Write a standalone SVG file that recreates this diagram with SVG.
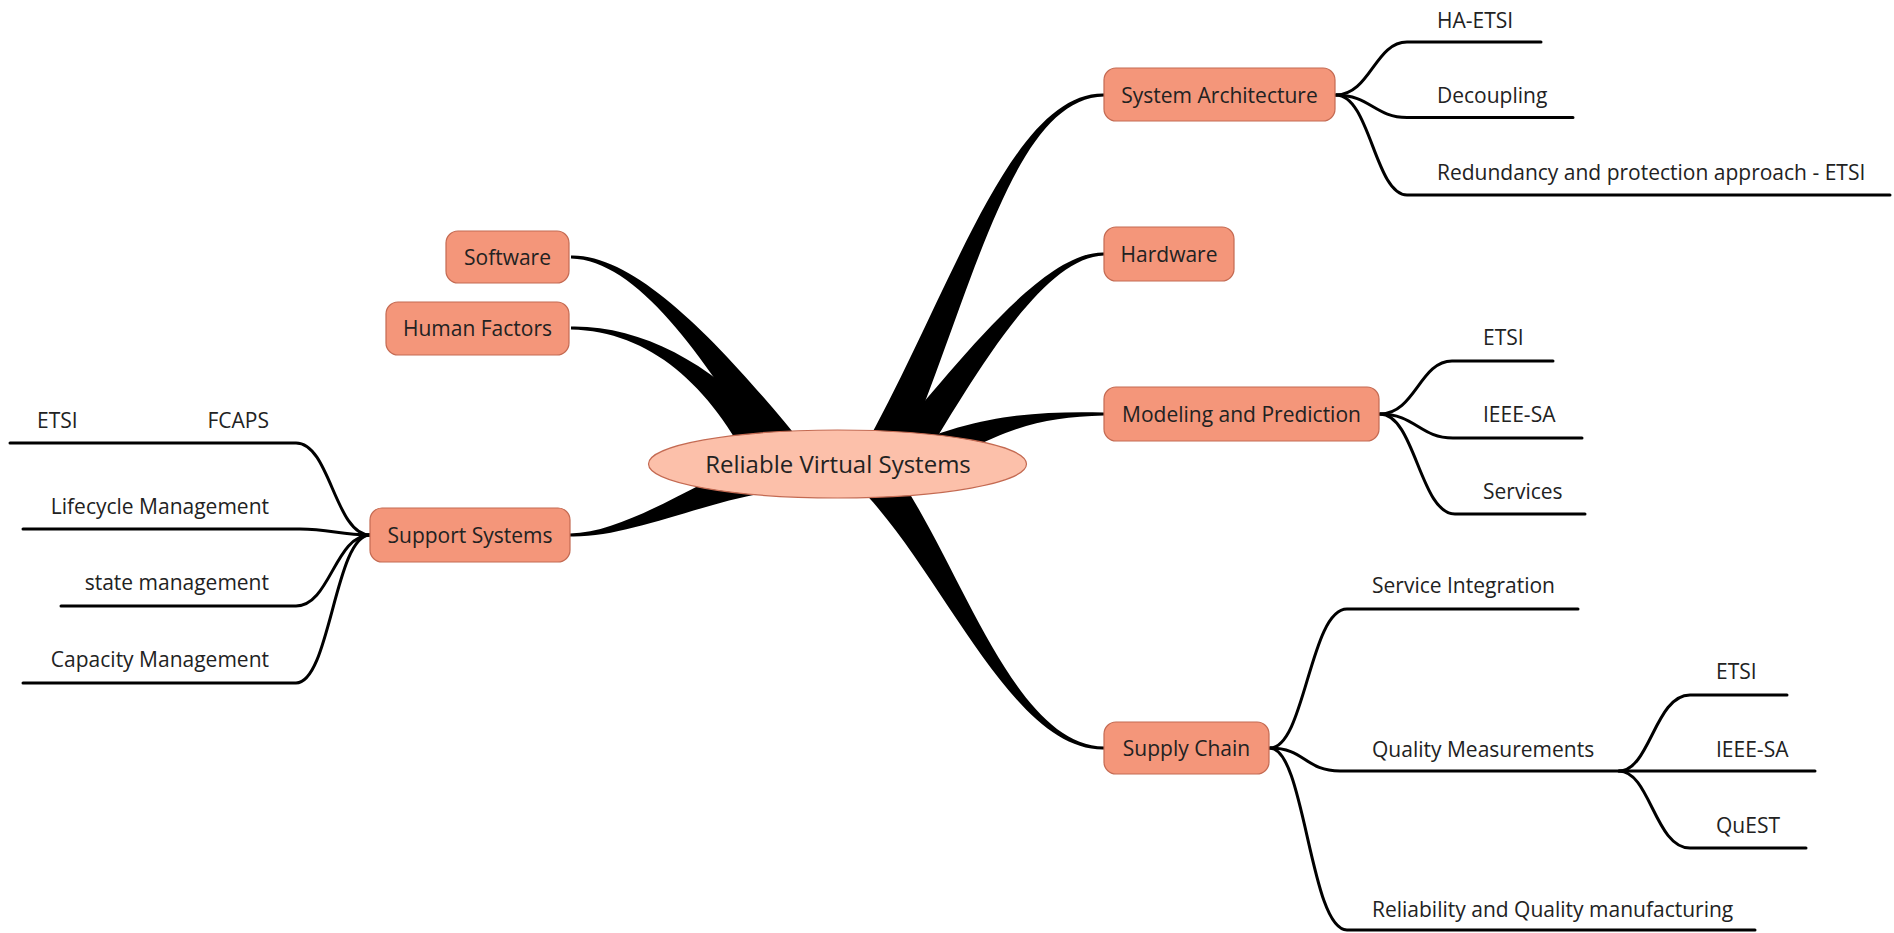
<svg xmlns="http://www.w3.org/2000/svg" width="1894" height="933" viewBox="0 0 1894 933">
<style>
.box{fill:#F4967A;stroke:#C46A52;stroke-width:1.2}
.t{font-family:"Open Sans","Noto Sans","Liberation Sans",sans-serif;font-size:21px;fill:#222}
.c{text-anchor:middle}
.r{text-anchor:end}
.br{fill:#000}
.ln{fill:none;stroke:#000;stroke-width:3;stroke-linecap:round}
</style>
<rect width="1894" height="933" fill="#fff"/>
<g id="connectors">
<path class="br" d="M806.4,448.5 C729.0,353.7 640,254 571,255.5 L571,258.5 C640,260 711.0,366.3 773.6,471.5 Z"/>
<path class="br" d="M787.0,449.4 C729.3,374.2 650,325 571,326.5 L571,329.5 C650,331 710.7,385.8 753.0,470.6 Z"/>
<path class="br" d="M775.2,450.6 C697.3,479.3 630,532 570,533.5 L570,536.5 C630,538 702.7,500.7 784.9,489.4 Z"/>
<path class="br" d="M897.9,468.9 C969.8,304.9 1010,98 1104,96.5 L1104,93.5 C1010,92 950.2,295.1 862.1,451.1 Z"/>
<path class="br" d="M916,472 C968.8,386.6 1040,257 1104,255.5 L1104,252.5 C1040,251 951.2,373.4 884,448 Z"/>
<path class="br" d="M909.8,487.4 C985.4,434.6 1030,417 1104,415.5 L1104,412.5 C1030,411 974.6,415.4 890.2,452.6 Z"/>
<path class="br" d="M855.1,483.3 C941.8,567.3 1010,751 1104,749.5 L1104,746.5 C1010,745 958.2,552.7 884.9,456.7 Z"/>
<path class="ln" d="M1336,95 C1370,95 1375,42 1407,42 L1541,42"/>
<path class="ln" d="M1336,95 C1370,95 1375,117.5 1407,117.5 L1573,117.5"/>
<path class="ln" d="M1336,95 C1370,95 1375,195 1407,195 L1890,195"/>
<path class="ln" d="M1380,414 C1415,414 1420,361 1452,361 L1553,361"/>
<path class="ln" d="M1380,414 C1415,414 1420,438 1453,438 L1582,438"/>
<path class="ln" d="M1380,414 C1415,414 1420,514 1455,514 L1585,514"/>
<path class="ln" d="M1270,748 C1305,748 1310,609 1347,609 L1578,609"/>
<path class="ln" d="M1270,748 C1305,748 1305,771 1340,771 L1815,771"/>
<path class="ln" d="M1270,748 C1305,748 1310,930 1347,930 L1755,930"/>
<path class="ln" d="M1619,771 C1650,771 1655,695 1690,695 L1787,695"/>
<path class="ln" d="M1619,771 C1650,771 1655,848 1690,848 L1806,848"/>
<path class="ln" d="M370,535 C335,535 330,443 296,443 L10,443"/>
<path class="ln" d="M370,535 C340,535 330,529 300,529 L23,529"/>
<path class="ln" d="M370,535 C335,535 330,606 296,606 L61,606"/>
<path class="ln" d="M370,535 C335,535 330,683 296,683 L23,683"/>
</g>
<g id="center">
<ellipse cx="837.5" cy="464" rx="189" ry="34" fill="#FCC0AA" stroke="#C46A52" stroke-width="1.2"/>
<text class="t c" x="838" y="473" style="font-size:24px">Reliable Virtual Systems</text>
</g>
<g id="system-architecture"><rect class="box" x="1104" y="68" width="231" height="53" rx="12"/><text class="t c" x="1219.5" y="103">System Architecture</text></g>
<g id="hardware"><rect class="box" x="1104" y="227" width="130" height="54" rx="12"/><text class="t c" x="1169" y="262">Hardware</text></g>
<g id="modeling"><rect class="box" x="1104" y="387" width="275" height="54" rx="12"/><text class="t c" x="1241.5" y="422">Modeling and Prediction</text></g>
<g id="supply-chain"><rect class="box" x="1104" y="722" width="165" height="52" rx="12"/><text class="t c" x="1186.5" y="756">Supply Chain</text></g>
<g id="software"><rect class="box" x="446" y="231" width="123" height="52" rx="12"/><text class="t c" x="507.5" y="265">Software</text></g>
<g id="human-factors"><rect class="box" x="386" y="302" width="183" height="53" rx="12"/><text class="t c" x="477.5" y="336">Human Factors</text></g>
<g id="support-systems"><rect class="box" x="370" y="508" width="200" height="54" rx="12"/><text class="t c" x="470" y="543">Support Systems</text></g>
<g id="ha-etsi"><text class="t" x="1437" y="28">HA-ETSI</text></g>
<g id="decoupling"><text class="t" x="1437" y="103">Decoupling</text></g>
<g id="redundancy"><text class="t" x="1437" y="180">Redundancy and protection approach - ETSI</text></g>
<g id="mp-etsi"><text class="t" x="1483" y="345">ETSI</text></g>
<g id="mp-ieee"><text class="t" x="1483" y="422">IEEE-SA</text></g>
<g id="mp-services"><text class="t" x="1483" y="499">Services</text></g>
<g id="service-integration"><text class="t" x="1372" y="593">Service Integration</text></g>
<g id="quality-measurements"><text class="t" x="1372" y="757">Quality Measurements</text></g>
<g id="reliability-manufacturing"><text class="t" x="1372" y="917">Reliability and Quality manufacturing</text></g>
<g id="qm-etsi"><text class="t" x="1716" y="679">ETSI</text></g>
<g id="qm-ieee"><text class="t" x="1716" y="757">IEEE-SA</text></g>
<g id="qm-quest"><text class="t" x="1716" y="833">QuEST</text></g>
<g id="fcaps"><text class="t" x="37" y="428">ETSI</text><text class="t r" x="269" y="428">FCAPS</text></g>
<g id="lifecycle"><text class="t r" x="269" y="514">Lifecycle Management</text></g>
<g id="state"><text class="t r" x="269" y="590">state management</text></g>
<g id="capacity"><text class="t r" x="269" y="667">Capacity Management</text></g>
</svg>
